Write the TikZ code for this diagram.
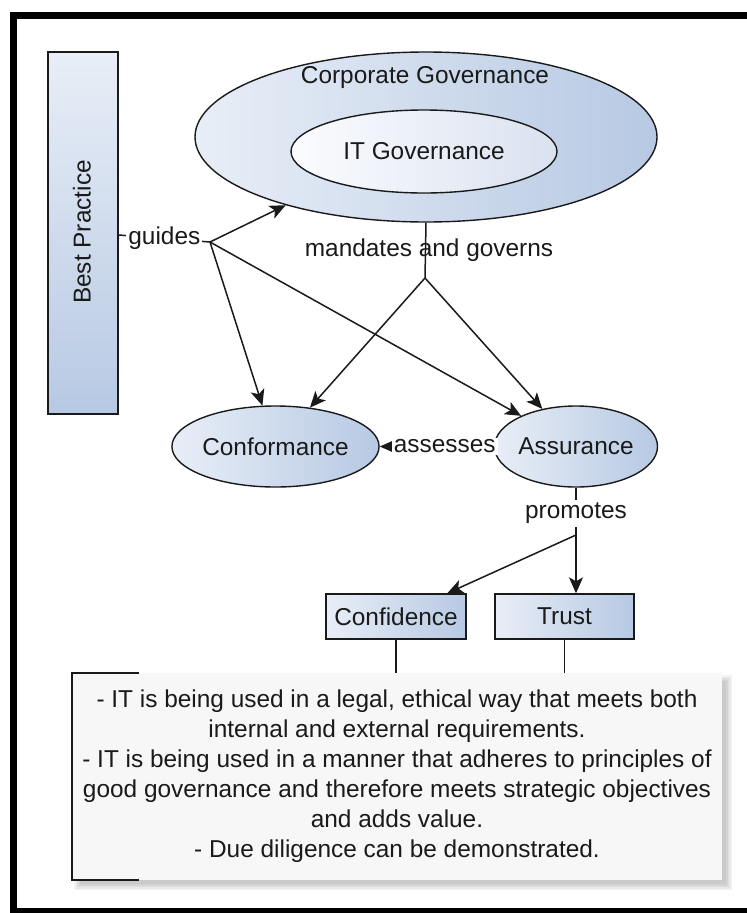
\documentclass[tikz,border=0pt]{standalone}
\usepackage{fontspec}
\setmainfont{Liberation Sans}
\usetikzlibrary{arrows.meta,shapes.geometric,calc}

\definecolor{gradlight}{HTML}{E8EEF7}
\definecolor{graddark}{HTML}{B7C9E3}
\definecolor{itlight}{HTML}{FBFCFE}
\definecolor{itdark}{HTML}{DAE2F0}
\definecolor{notefill}{HTML}{F7F7F7}
\definecolor{inkcol}{HTML}{1A1A1A}

\tikzset{
  txt/.style={font=\fontsize{24.4}{28}\selectfont, text=inkcol},
  nodeline/.style={draw=inkcol, line width=1.4pt},
  oval/.style={nodeline, txt, ellipse, inner sep=0pt, left color=gradlight, right color=graddark},
  hbox/.style={nodeline, txt, rectangle, inner sep=0pt, left color=gradlight, right color=graddark},
  vbox/.style={nodeline, rectangle, inner sep=0pt, top color=gradlight, bottom color=graddark},
  link/.style={line width=1.5pt, draw=inkcol},
  arr/.style={link, -{Stealth[length=16pt,width=14pt,inset=4pt]}},
  lbl/.style={txt, inner sep=1pt},
  lblbg/.style={lbl, fill=white, inner sep=2pt},
}

\begin{document}
\begin{tikzpicture}[x=1pt,y=-1pt]
\useasboundingbox (0,0) rectangle (747,913);
\fill[white] (0,0) rectangle (747,913);

% heavy frame, open to the right
\draw[line width=7pt] (747,15.5) -- (13.5,15.5) -- (13.5,911.5) -- (747,911.5);

% side bar
\node[vbox, minimum width=70pt, minimum height=362pt] (bp) at (83,233) {};
\node[txt, rotate=90] (bpt) at (82,232) {Best Practice};

% governance ellipses
\node[oval, minimum width=462pt, minimum height=170pt] (cg) at (426,137) {};
\node[lbl] (cgt) at (425,78) {Corporate Governance};
\node[oval, left color=itlight, right color=itdark, minimum width=266pt, minimum height=83pt] (itg) at (424,151.5) {IT Governance};

% outcome ellipses
\node[oval, minimum width=159pt, minimum height=81pt] (conf) at (275.5,446.5) {Conformance};
\node[oval, minimum width=162pt, minimum height=81pt] (asr) at (576,446.5) {Assurance};

% result boxes
\node[hbox, minimum width=140pt, minimum height=45pt] (cfd) at (396,616.5) {Confidence};
\node[hbox, minimum width=139pt, minimum height=45pt] (trust) at (564.5,616.5) {Trust};

% note with soft shadow
\foreach \d in {0,1.5,3,4.5,6}{
  \fill[black, opacity=0.045] (80-\d,681-\d) rectangle (726+\d,884+\d);
}
\node[fill=notefill, minimum width=650pt, minimum height=207pt, inner sep=0pt] (note) at (397,776.5) {};
\node[txt, align=center, font=\fontsize{24.4}{30}\selectfont, inner sep=0pt] (notetext) at (397,776)
  {- IT is being used in a legal, ethical way that meets both\\
   internal and external requirements.\\
   - IT is being used in a manner that adheres to principles of\\
   good governance and therefore meets strategic objectives\\
   and adds value.\\
   - Due diligence can be demonstrated.};
\draw[line width=1.7pt, draw=inkcol] ($(note.north west)+(67,0)$) -- (note.north west) -- (note.south west) -- ++(67,0);

% guides
\coordinate (gj) at (210,242);
\draw[link] ([yshift=-2pt]bp.east) -- node[lblbg, pos=0.5] {guides} (gj);
\draw[arr] (gj) -- (cg);
\draw[arr] (gj) -- (conf);
\draw[arr] (gj) -- (asr);

% mandates and governs
\coordinate (mj) at (425,278);
\draw[link] (cg.south) -- (mj);
\node[lbl] (mgt) at (429,250) {mandates and governs};
\draw[arr] (mj) -- (conf);
\draw[arr] (mj) -- (asr);

% assesses
\draw[arr] (asr) -- node[lblbg, pos=0.43] {assesses} (conf);

% promotes
\coordinate (pj) at (576,535);
\draw[link] (asr.south) -- node[lblbg, pos=0.54, inner sep=3pt] {promotes} (pj);
\draw[arr] (pj) -- (pj |- trust.north);
\draw[arr] (pj) -- (cfd);

% boxes to note
\draw[link] (cfd.south) -- (cfd.south |- note.north);
\draw[link] (trust.south) -- (trust.south |- note.north);
\end{tikzpicture}
\end{document}
